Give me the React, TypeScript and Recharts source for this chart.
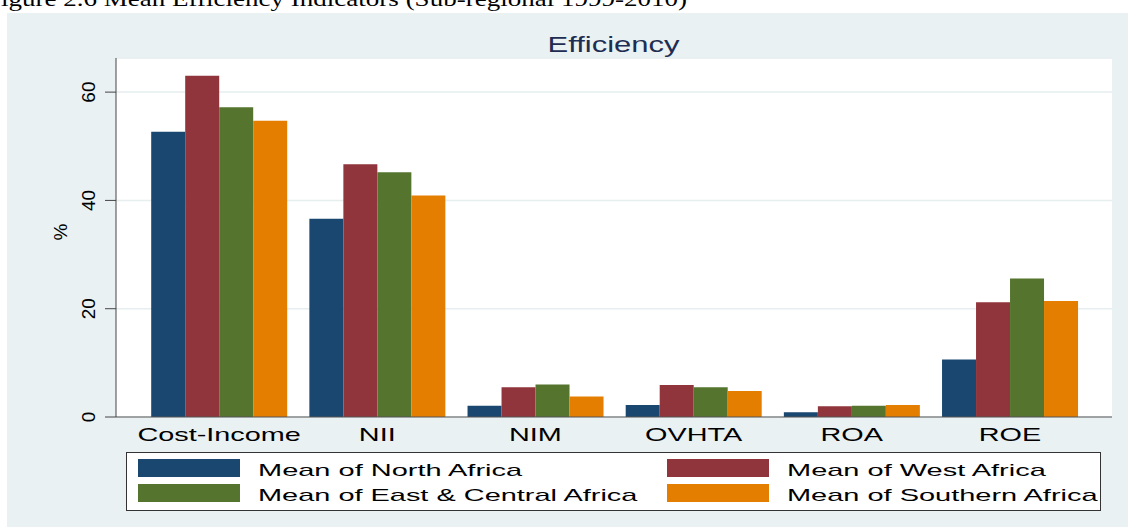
import React from 'react';
import {BarChart, Bar, XAxis, YAxis, CartesianGrid, Legend} from 'recharts';

// values (percent)
const categories = ['Cost-Income', 'NII', 'NIM', 'OVHTA', 'ROA', 'ROE'];
const northAfrica = [52.7, 36.6, 2.1, 2.2, 0.9, 10.6];
const westAfrica = [63.0, 46.7, 5.5, 5.9, 2.0, 21.2];
const eastCentralAfrica = [57.2, 45.2, 6.0, 5.5, 2.1, 25.6];
const southernAfrica = [54.7, 40.9, 3.8, 4.8, 2.2, 21.4];
const yTicks = [0, 20, 40, 60];

const seriesKeys = ['north', 'west', 'east', 'south'];
const seriesNames = [
  'Mean of North Africa',
  'Mean of West Africa',
  'Mean of East & Central Africa',
  'Mean of Southern Africa',
];
const seriesColors = ['#1a476f', '#90353b', '#55752f', '#e37e00'];

const data = categories.map((name, i) => ({
  name,
  north: northAfrica[i],
  west: westAfrica[i],
  east: eastCentralAfrica[i],
  south: southernAfrica[i],
}));

const SANS = '"Liberation Sans", Arial, sans-serif';
const SERIF = '"Liberation Serif", "Times New Roman", serif';
// the source image is stretched sideways, so text gets squeezed/stretched to width
const STRETCH = 1.44;

let ctx: CanvasRenderingContext2D | null = null;
function textWidth(text: string, font: string) {
  if (!ctx) ctx = document.createElement('canvas').getContext('2d');
  if (!ctx) return text.length * 10;
  ctx.font = font;
  return ctx.measureText(text).width;
}

function XTick({x, y, payload}: any) {
  const label = String(payload.value);
  const len = textWidth(label, '20px "Liberation Sans"') * STRETCH;
  return (
    <text
      x={x}
      y={y + 24}
      textAnchor="middle"
      fontSize={19}
      fontFamily={SANS}
      fill="#000"
      textLength={len}
      lengthAdjust="spacingAndGlyphs">
      {label}
    </text>
  );
}

function YTick({x, y, payload}: any) {
  const cx = x - 8;
  return (
    <text
      x={cx}
      y={y}
      transform={`rotate(-90 ${cx} ${y})`}
      textAnchor="middle"
      fontSize={19}
      fontFamily={SANS}
      fill="#000">
      {payload.value}
    </text>
  );
}

function LegendBox() {
  return (
    <svg width={975} height={59} style={{display: 'block'}}>
      <rect x={0.5} y={0.5} width={974} height={58} fill="#fff" stroke="#333" />
      {seriesNames.map((name, i) => {
        const col = i % 2;
        const row = Math.floor(i / 2);
        const sx = col === 0 ? 12 : 541;
        const sy = row === 0 ? 7 : 32;
        const len = textWidth(name, '20px "Liberation Sans"') * STRETCH;
        return (
          <g key={name}>
            <rect x={sx} y={sy} width={102} height={18} fill={seriesColors[i]} />
            <text
              x={sx + 120}
              y={sy + 16.5}
              fontSize={17}
              fontFamily={SANS}
              fill="#000"
              textLength={len}
              lengthAdjust="spacingAndGlyphs">
              {name}
            </text>
          </g>
        );
      })}
    </svg>
  );
}

export default function App() {
  const caption = 'Figure 2.6 Mean Efficiency Indicators (Sub-regional 1999-2010)';
  return (
    <div
      style={{
        position: 'absolute',
        left: 0,
        top: 0,
        width: 1128,
        height: 527,
        overflow: 'hidden',
        background: '#fff',
      }}>
      <div
        style={{
          position: 'absolute',
          left: 7,
          top: 13,
          width: 1121,
          height: 514,
          background: '#eaf1f3',
        }}
      />
      <div style={{position: 'absolute', left: 0, top: 0}}>
        <BarChart
          width={1128}
          height={527}
          data={data}
          margin={{top: 58, right: 16, bottom: 80, left: 56}}
          barCategoryGap={11.2}
          barGap={0}>
          <CartesianGrid
            vertical={false}
            stroke="#e6eef0"
            strokeWidth={1.5}
            fill="#fff"
            fillOpacity={1}
          />
          <XAxis
            dataKey="name"
            height={30}
            interval={0}
            tickLine={false}
            tickSize={0}
            tickMargin={0}
            padding={{left: 24, right: 23}}
            axisLine={{stroke: '#555'}}
            tick={<XTick />}
          />
          <YAxis
            width={60}
            domain={[0, 66.3]}
            ticks={yTicks}
            tickSize={11}
            tickLine={{stroke: '#444'}}
            axisLine={{stroke: '#444'}}
            tick={<YTick />}
          />
          {seriesKeys.map((key, i) => (
            <Bar
              key={key}
              dataKey={key}
              name={seriesNames[i]}
              fill={seriesColors[i]}
              isAnimationActive={false}
            />
          ))}
          <Legend
            layout="vertical"
            verticalAlign="middle"
            align="center"
            wrapperStyle={{left: 126, top: 452, width: 975, height: 59}}
            content={<LegendBox />}
          />
        </BarChart>
      </div>
      <svg
        width={1128}
        height={527}
        style={{position: 'absolute', left: 0, top: 0, pointerEvents: 'none'}}>
        <text
          x={-14}
          y={6}
          fontSize={21}
          fontFamily={SERIF}
          fill="#000"
          textLength={701}
          lengthAdjust="spacingAndGlyphs">
          {caption}
        </text>
        <text
          x={613.5}
          y={52}
          textAnchor="middle"
          fontSize={22}
          fontFamily={SANS}
          fill="#1e2d52"
          textLength={132}
          lengthAdjust="spacingAndGlyphs">
          Efficiency
        </text>
        <text
          x={67}
          y={232}
          transform="rotate(-90 67 232)"
          textAnchor="middle"
          fontSize={19}
          fontFamily={SANS}
          fill="#000">
          %
        </text>
      </svg>
    </div>
  );
}
